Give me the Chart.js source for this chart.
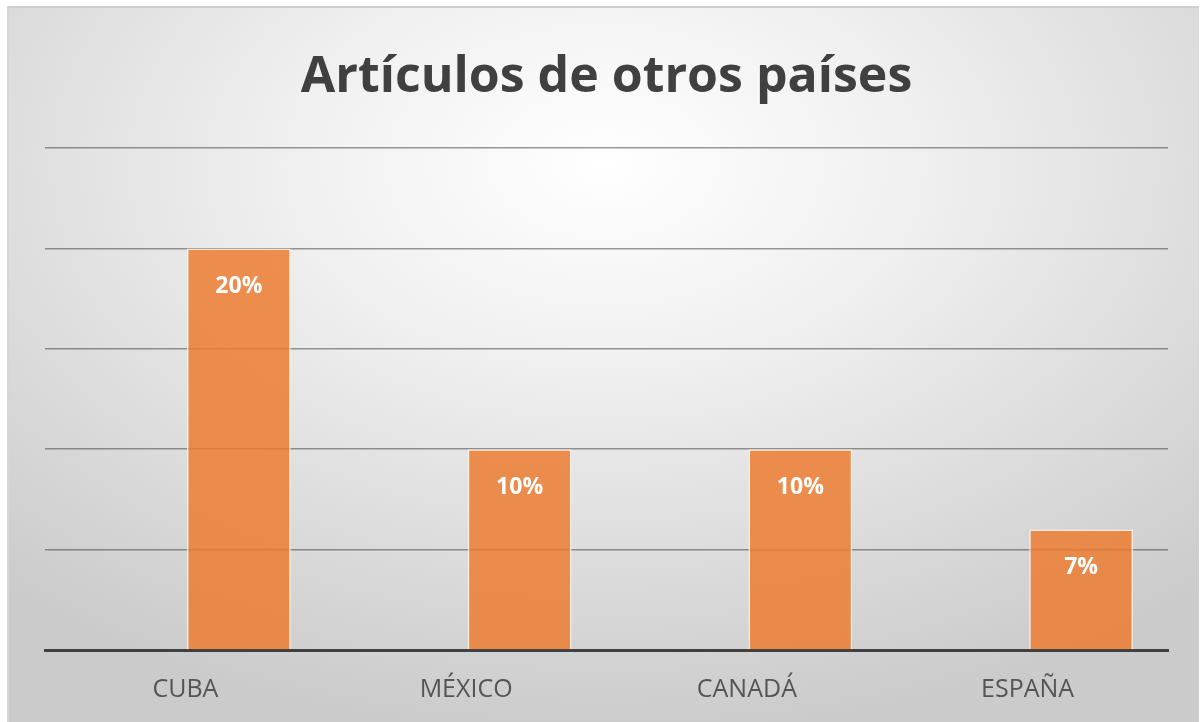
<!DOCTYPE html>
<html>
<head>
<meta charset="utf-8">
<script src="https://cdn.jsdelivr.net/npm/chart.js@4/dist/chart.umd.min.js"></script>
<style>
    body { margin: 0; background: #fff; }
    #wrap { position: relative; width: 1201px; height: 722px; overflow: hidden; }
    #bg {
        position: absolute; left: 7px; top: 6px; right: 2px; bottom: 0;
        border-top: 2px solid #cfcfcf; border-left: 2px solid #d6d6d6;
        background: radial-gradient(ellipse 75% 80% at 50% 22%, #ffffff 0%, #f0f0f0 35%, #d9d9d9 75%, #cbcbcb 100%);
    }
    #myChart { position: absolute; left: 0; top: 0; }
</style>
</head>
<body>
<div id="wrap">
    <div id="bg"></div>
    <canvas id="myChart" width="1201" height="722"></canvas>
</div>
<script>
const categories = ["CUBA", "MÉXICO", "CANADÁ", "ESPAÑA"];
const emptySeries = [null, null, null, null];
const percentValues = [20, 10, 10, 6];
const valueLabels = ["20%", "10%", "10%", "7%"];
const yTicks = [0, 5, 10, 15, 20, 25];

// draws the white % labels inside the orange bars
const barLabels = {
    id: 'barLabels',
    afterDatasetsDraw(chart) {
        const ctx = chart.ctx;
        const meta = chart.getDatasetMeta(1);
        ctx.save();
        ctx.fillStyle = '#ffffff';
        ctx.font = 'bold 23px "Open Sans", sans-serif';
        ctx.textAlign = 'center';
        ctx.textBaseline = 'middle';
        meta.data.forEach((bar, i) => {
            ctx.fillText(valueLabels[i], bar.x, bar.y + 38);
        });
        ctx.restore();
    }
};

var ctx = document.getElementById('myChart').getContext('2d');

var myChart = new Chart(ctx, {
    type: 'bar',
    data: {
        labels: categories,
        datasets: [
            {
                label: 'otros',
                data: emptySeries,
                backgroundColor: 'rgba(0,0,0,0)',
            },
            {
                label: 'Artículos',
                data: percentValues,
                backgroundColor: 'rgba(237,125,49,0.85)',
                borderColor: 'rgba(255,240,225,0.9)',
                borderWidth: 1.5,
            },
        ],
    },
    options: {
        responsive: false,
        animation: false,
        categoryPercentage: 0.762,
        barPercentage: 0.97,
        layout: {
            padding: { left: 45, right: 33, top: 0, bottom: 0 }
        },
        plugins: {
            legend: { display: false },
            tooltip: { enabled: false },
            title: {
                display: true,
                text: 'Artículos de otros países',
                color: '#404040',
                font: { family: '"Open Sans", sans-serif', size: 50, weight: 'bold' },
                padding: { top: 48, bottom: 40 }
            }
        },
        scales: {
            x: {
                grid: { display: false, drawTicks: false },
                border: { color: '#404040', width: 3 },
                ticks: {
                    color: '#555555',
                    font: { family: '"Open Sans", sans-serif', size: 25 },
                    padding: 25
                },
                afterFit: (scale) => { scale.height = 72; }
            },
            y: {
                min: 0,
                max: 25,
                afterBuildTicks: (axis) => { axis.ticks = yTicks.map(v => ({ value: v })); },
                ticks: { display: false },
                border: { display: false },
                grid: {
                    color: 'rgba(70,70,70,0.55)',
                    lineWidth: 1.5,
                    drawTicks: false
                }
            }
        }
    },
    plugins: [barLabels]
});
</script>
</body>
</html>
